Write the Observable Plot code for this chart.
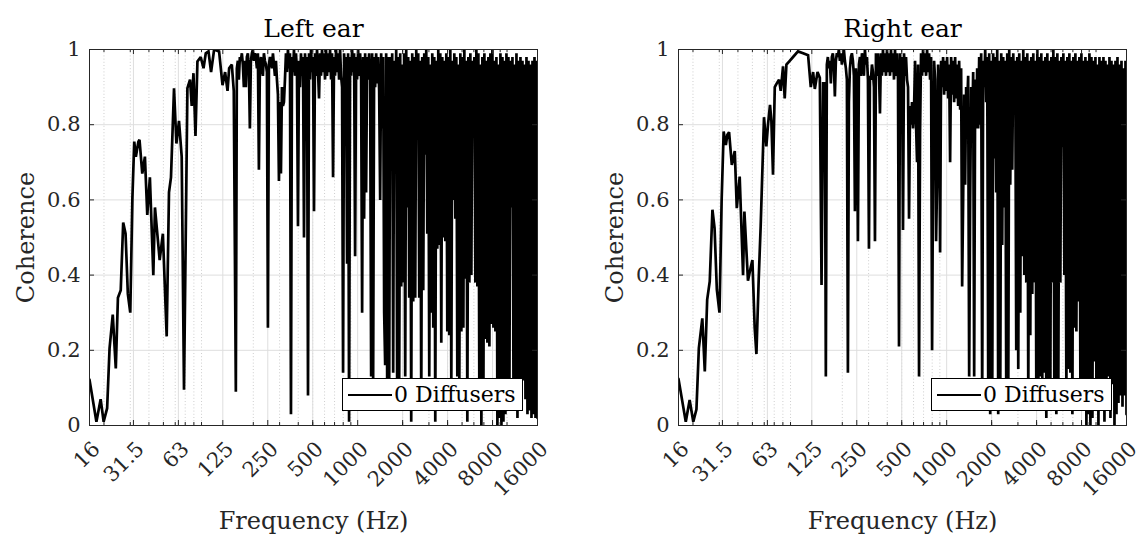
<!DOCTYPE html>
<html>
<head>
<meta charset="utf-8">
<script src="https://cdn.jsdelivr.net/npm/d3@7"></script>
<script src="https://cdn.jsdelivr.net/npm/@observablehq/plot@0.6"></script>
<style>
  html, body { margin: 0; padding: 0; background: #fff; }
  #wrap { position: relative; width: 1146px; height: 536px; display: flex; }
  .panel { position: relative; width: 573px; height: 536px; }
  .legend {
    position: absolute; top: 378px; width: 181px; height: 33px; box-sizing: border-box;
    border: 1px solid #000; background: #fff; display: flex; align-items: center;
    font-family: "DejaVu Serif", serif; font-size: 22px; color: #000; white-space: nowrap;
  }
  .legend .sw { display: inline-block; width: 44px; height: 0; border-top: 2.6px solid #000; margin: 0 2px 0 5px; }
</style>
</head>
<body>
<div id="wrap">
  <div class="panel" id="left"></div>
  <div class="panel" id="right"></div>
</div>
<script>
// ---------------- data ----------------
const titles = ["Left ear", "Right ear"];
const legendLabel = "0 Diffusers";
const xLabel = "Frequency (Hz)";
const yLabel = "Coherence";
const xTicks = [16, 31.5, 63, 125, 250, 500, 1000, 2000, 4000, 8000, 16000];
const yTicks = [0, 0.2, 0.4, 0.6, 0.8, 1];
const minorFactors = [2, 3, 4, 5, 6, 7, 8, 9];
const minorDecades = [10, 100, 1000];

// low-frequency points (read individually)
const lowFreqL = [16, 17.8, 19.0, 19.9, 21.0, 21.8, 22.9, 24.0, 24.8, 25.9, 26.9, 27.9, 28.9, 30.0, 31.0, 31.9, 32.7, 34.0, 34.6, 36.1, 37.6, 39.0, 40.6, 42.8, 43.9, 47.2, 49.6, 52.6, 54.5, 56.2, 58.9, 61.1, 63.6, 66.3, 68.7, 72.4, 75.4, 77.4, 79.5, 82.0, 84.5, 88.9, 92.8, 96.1, 100.2, 104.3, 109.3, 118, 124.4, 129.5, 134.4, 137.8, 143.6, 148];
const lowCohL  = [.122, .01, .07, .01, .046, .205, .295, .152, .34, .36, .54, .51, .35, .30, .605, .755, .715, .755, .76, .67, .715, .56, .66, .40, .58, .44, .51, .237, .62, .66, .897, .75, .81, .715, .095, .897, .92, .85, .937, .77, .968, .98, .95, .99, .995, .94, 1.0, .995, .905, .94, .89, .95, .96, .89];

const lowFreqR = [16, 17.9, 19.0, 20.1, 21.1, 21.9, 23.1, 24.0, 24.9, 25.9, 27.0, 27.9, 28.9, 30.1, 31.1, 32.1, 33.2, 34.0, 34.9, 36.4, 38.1, 39.3, 41.1, 43.3, 44.2, 46.7, 48.7, 50.0, 51.8, 53.2, 55.1, 56.8, 59.8, 62.0, 63.6, 65.6, 67.0, 68.7, 70.6, 72.8, 75.4, 77.4, 80.2, 82.3, 84.5, 88.9, 93.6, 101, 109.3, 118, 123, 127.5, 130.9, 136.5, 141.4, 145.2, 148.8];
const lowCohR  = [.124, .01, .068, .01, .043, .206, .285, .144, .335, .383, .574, .525, .361, .30, .596, .782, .746, .773, .78, .693, .73, .578, .662, .40, .569, .385, .42, .44, .26, .19, .388, .53, .82, .742, .80, .853, .81, .667, .90, .91, .92, .89, .955, .87, .96, .97, .98, .995, .99, .985, .90, .94, .895, .94, .925, .374, .91];

// dense band: values read column by column on an even log-frequency grid from 152.8 Hz to 16 kHz
const denseStart = 152.8, denseEnd = 16000;
const denseCohL = [
 .09,.95,.97,.92,.98,.97,.99,.96,.90,.97,.90,.98,.99,.95,.79,.97,.99,1,.97,.99,
 .98,.95,.99,.68,.96,.98,.95,.93,.99,.97,.96,.94,.26,.96,.98,.97,.95,.99,.96,.93,
 .97,.92,.88,.65,.86,.67,.90,.85,.86,.92,
 .99,.94,1,.95,.99,.03,.98,.94,1,.93,.99,.94,.53,.97,.90,.99,.93,.98,.50,.99,
 .93,.98,.08,.99,.92,1,.94,.98,.57,.99,.93,1,.94,.87,.99,.93,1,.94,.99,.92,
 1,.93,.99,.94,1,.92,.99,.66,.98,.93,1,.94,.99,.92,1,.93,.90,.14,.99,.93,
 .98,.43,.99,.01,.98,.93,1,.94,.99,.45,.98,.92,1,.93,.99,.92,.30,.98,.55,.99,
 .62,.98,.92,.99,.93,.13,.99,.12,.98,.90,.99,.91,.98,.89,.60,.99,.79,.98,.30,.16,
 .99,.12,.98,
 .10,.98,.81,.99,.14,.97,.72,1,.06,.98,.12,.99,.37,.96,.38,.99,.13,1,.58,.98,
 .34,.97,.01,.99,.33,.98,.34,1,.86,.99,.34,.97,.05,.98,.36,.99,.72,1,.51,.98,
 .13,.96,.30,.99,.26,.98,.01,.97,.47,1,.48,.99,.22,.98,.50,.97,.49,.99,.25,.98,
 .24,1,.10,.97,.60,.99,.55,.98,.13,.96,.12,.99,.25,.98,.26,1,.39,.97,.01,.98,
 .38,.99,.40,.97,.78,.98,.38,1,.37,.99,.05,.96,0,.98,.06,.99,.23,.97,.22,.98,
 .21,.99,.27,1,.26,.97,.25,.98,0,.96,.02,.99,0,.98,.01,.97,.03,.99,.08,.98,
 .10,.97,.58,.98,.12,.96,.06,.99,.02,.97,.10,.98,.06,.97,.12,.96,.07,.98,.03,.97,
 .04,.96,.02,.97,.03,.98,.02,.97,.02
];
const denseCohR = [
 .91,.13,.96,.98,.95,.97,.91,.98,.99,.96,.875,.97,.99,.98,1,.97,.99,.96,.98,1,
 .97,.95,.92,.14,.86,.95,.98,.99,.97,.93,.57,.95,.91,.49,.96,.98,.93,.99,.97,.93,
 1,.96,.98,.92,.47,.93,.92,.96,.94,.90,
 .49,.99,.93,.99,.94,.83,.99,.93,1,.94,.99,.93,1,.94,.99,.93,1,.94,.99,.92,
 1,.93,.99,.92,.21,.99,.91,.98,.52,.99,.93,.98,.92,.90,.55,.85,.80,.86,.79,.84,
 .97,.80,.70,.96,.13,.78,.99,.93,1,.94,.99,.93,1,.94,.99,.92,.98,.20,.70,.97,
 .92,.49,.65,.96,.90,.46,.97,.90,.98,.88,.97,.89,.98,.87,.96,.70,.98,.88,.97,.86,
 .98,.87,.96,.85,.97,.84,.95,.37,.60,.88,.64,.90,.85,.93,.13,.60,.90,.77,.94,.13,
 .92,.79,.95,
 .79,.98,.80,.99,.06,.97,.90,1,.86,.98,.12,.99,.03,.97,.05,.99,.71,.98,.62,1,
 .03,.97,.05,.99,.48,.98,.58,.97,.10,.99,.05,1,.64,.98,.68,.99,.86,.97,.20,.98,
 .15,.99,.30,.97,.45,1,.40,.98,.38,.99,.08,.97,.24,.98,.35,.99,.38,.97,.10,1,
 .05,.98,.13,.99,.12,.97,.14,.98,.02,.99,.04,.97,.10,.98,.38,1,.09,.98,.03,.99,
 .12,.97,.38,.98,.74,.99,.40,.97,.08,.98,.15,.99,.14,.97,.03,.98,.26,.99,.25,.97,
 .33,.98,.10,.99,.06,.97,.11,.98,0,.97,.03,.99,0,.98,.02,.97,.17,.98,.05,.96,
 0,.98,.12,.97,.11,.98,.01,.97,.12,.96,.13,.98,.02,.97,.11,.96,0,.97,.03,.98,
 .06,.96,.08,.97,.05,.95,.08,.97,.03
];

// ---------------- drawing ----------------
const FONT = "'DejaVu Serif', serif";
const minorTicks = minorDecades.flatMap(d => minorFactors.map(f => f * d)).concat([10000]);

function buildRows(lowF, lowC, denseC) {
  const n = denseC.length;
  const denseF = d3.range(n).map(i => denseStart * Math.pow(denseEnd / denseStart, i / (n - 1)));
  return lowF.map((f, i) => ({f, c: lowC[i]})).concat(denseF.map((f, i) => ({f, c: denseC[i]})));
}

function panel(el, title, rows, ml, mr) {
  const W = 573, H = 536, mt = 49, mb = 111;
  const iw = W - ml - mr, ih = H - mt - mb;
  const chart = Plot.plot({
    width: W, height: H,
    marginLeft: ml, marginRight: mr, marginTop: mt, marginBottom: mb,
    style: {fontFamily: FONT, background: "#fff", color: "#262626", overflow: "visible"},
    x: {type: "log", domain: [16, 16000], axis: null},
    y: {domain: [0, 1], axis: null},
    marks: [
      Plot.ruleX(minorTicks, {x: d => d, stroke: "#c8c8c8", strokeWidth: 0.9, strokeDasharray: "1,2.2"}),
      Plot.ruleX(xTicks.slice(1, -1), {x: d => d, stroke: "#dedede", strokeWidth: 1}),
      Plot.ruleY(yTicks.slice(1, -1), {y: d => d, stroke: "#dedede", strokeWidth: 1}),
      Plot.line(rows, {x: "f", y: "c", stroke: "#000", strokeWidth: 2.7, strokeLinejoin: "miter", strokeMiterlimit: 2, clip: true}),
      Plot.tickX(xTicks, {x: d => d, stroke: "#262626", insetTop: ih - 5}),
      Plot.tickX(xTicks, {x: d => d, stroke: "#262626", insetBottom: ih - 5}),
      Plot.tickX(minorTicks, {x: d => d, stroke: "#262626", insetTop: ih - 3}),
      Plot.tickX(minorTicks, {x: d => d, stroke: "#262626", insetBottom: ih - 3}),
      Plot.tickY(yTicks, {y: d => d, stroke: "#262626", insetRight: iw - 5}),
      Plot.tickY(yTicks, {y: d => d, stroke: "#262626", insetLeft: iw - 5}),
      Plot.frame({stroke: "#262626", strokeWidth: 1}),
      Plot.text(xTicks, {x: d => d, frameAnchor: "bottom", text: d => String(d), rotate: -45, textAnchor: "end", lineAnchor: "middle", dx: 7, dy: 20, fontSize: 21, fill: "#262626"}),
      Plot.text(yTicks, {y: d => d, frameAnchor: "left", text: d => String(d), textAnchor: "end", lineAnchor: "middle", dx: -9, fontSize: 21, fill: "#262626"}),
      Plot.text([title], {frameAnchor: "top", text: d => d, lineAnchor: "middle", dy: -21, fontSize: 25, fill: "#000"}),
      Plot.text([xLabel], {frameAnchor: "bottom", text: d => d, lineAnchor: "middle", dy: 96, fontSize: 24, fill: "#262626"}),
      Plot.text([yLabel], {frameAnchor: "left", text: d => d, textAnchor: "middle", lineAnchor: "middle", rotate: -90, dx: -63, fontSize: 24, fill: "#262626"})
    ]
  });
  el.appendChild(chart);
  const lg = document.createElement("div");
  lg.className = "legend";
  lg.style.left = (ml + iw - 14 - 181) + "px";
  lg.innerHTML = '<span class="sw"></span><span></span>';
  lg.lastChild.textContent = legendLabel;
  el.appendChild(lg);
}

panel(document.getElementById("left"), titles[0], buildRows(lowFreqL, lowCohL, denseCohL), 89, 36);
panel(document.getElementById("right"), titles[1], buildRows(lowFreqR, lowCohR, denseCohR), 105, 20);
</script>
</body>
</html>
